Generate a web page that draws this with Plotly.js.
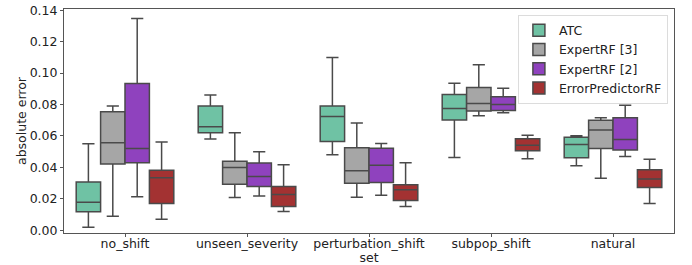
<!DOCTYPE html>
<html>
<head>
<meta charset="utf-8">
<script src="https://cdn.plot.ly/plotly-3.0.1.min.js"></script>
<style>html,body{margin:0;padding:0;background:#fff;}#chart{width:692px;height:265px;}</style>
</head>
<body>
<div id="chart"></div>
<script>
const categories = ["no_shift", "unseen_severity", "perturbation_shift", "subpop_shift", "natural"];
const methods = ["ATC", "ExpertRF [3]", "ExpertRF [2]", "ErrorPredictorRF"];
const colors = ["#6fc2a4", "#a6a6a6", "#8f42be", "#a33232"];

// per method: [no_shift, unseen_severity, perturbation_shift, subpop_shift, natural]
const atcLow    = [0.0019, 0.0580, 0.0480, 0.0463, 0.0410];
const atcQ1     = [0.0117, 0.0620, 0.0565, 0.0701, 0.0461];
const atcMed    = [0.0178, 0.0658, 0.0724, 0.0775, 0.0546];
const atcQ3     = [0.0306, 0.0790, 0.0790, 0.0864, 0.0592];
const atcHigh   = [0.0550, 0.0860, 0.1100, 0.0936, 0.0601];

const e3Low     = [0.0089, 0.0208, 0.0210, 0.0728, 0.0331];
const e3Q1      = [0.0422, 0.0293, 0.0299, 0.0758, 0.0520];
const e3Med     = [0.0556, 0.0399, 0.0378, 0.0807, 0.0637];
const e3Q3      = [0.0754, 0.0439, 0.0524, 0.0909, 0.0699];
const e3High    = [0.0790, 0.0620, 0.0683, 0.1053, 0.0715];

const e2Low     = [0.0212, 0.0217, 0.0223, 0.0747, 0.0469];
const e2Q1      = [0.0429, 0.0278, 0.0304, 0.0762, 0.0510];
const e2Med     = [0.0520, 0.0342, 0.0414, 0.0800, 0.0578];
const e2Q3      = [0.0934, 0.0427, 0.0522, 0.0849, 0.0715];
const e2High    = [0.1348, 0.0499, 0.0552, 0.0903, 0.0796];

const epLow     = [0.0070, 0.0119, 0.0151, 0.0454, 0.0170];
const epQ1      = [0.0170, 0.0151, 0.0189, 0.0505, 0.0272];
const epMed     = [0.0333, 0.0227, 0.0257, 0.0541, 0.0325];
const epQ3      = [0.0382, 0.0278, 0.0289, 0.0582, 0.0384];
const epHigh    = [0.0561, 0.0416, 0.0429, 0.0605, 0.0452];

const stats = [
  [atcLow, atcQ1, atcMed, atcQ3, atcHigh],
  [e3Low, e3Q1, e3Med, e3Q3, e3High],
  [e2Low, e2Q1, e2Med, e2Q3, e2High],
  [epLow, epQ1, epMed, epQ3, epHigh]
];

const traces = methods.map((name, i) => ({
  type: "box",
  name: name,
  x: categories,
  lowerfence: stats[i][0],
  q1: stats[i][1],
  median: stats[i][2],
  q3: stats[i][3],
  upperfence: stats[i][4],
  boxpoints: false,
  fillcolor: colors[i],
  line: {color: "#4a4a4a", width: 1.5},
  whiskerwidth: 0.5,
  hoverinfo: "skip"
}));

const font = {family: "DejaVu Sans, sans-serif", size: 12.5, color: "#222"};

const layout = {
  width: 692, height: 265,
  margin: {l: 64, r: 18, t: 9, b: 32},
  paper_bgcolor: "#fff", plot_bgcolor: "#fff",
  boxmode: "group", boxgap: 0.2, boxgroupgap: 0,
  font: font,
  showlegend: true,
  legend: {
    x: 0.99, y: 0.975, xanchor: "right", yanchor: "top",
    bgcolor: "rgba(255,255,255,0.9)", bordercolor: "#dcdcdc", borderwidth: 1,
    font: {family: "DejaVu Sans, sans-serif", size: 12.5, color: "#222"},
    tracegroupgap: 0
  },
  xaxis: {
    type: "category",
    range: [-0.5, 4.5],
    showline: true, mirror: true, linecolor: "#555", linewidth: 1,
    ticks: "outside", ticklen: 3, tickcolor: "#555",
    ticklabelstandoff: -4,
    showgrid: false, zeroline: false,
    tickfont: font,
    title: {text: "set", font: font, standoff: 0}
  },
  yaxis: {
    range: [-0.0018, 0.1408],
    tickvals: [0, 0.02, 0.04, 0.06, 0.08, 0.10, 0.12, 0.14],
    ticktext: ["0.00", "0.02", "0.04", "0.06", "0.08", "0.10", "0.12", "0.14"],
    showline: true, mirror: true, linecolor: "#555", linewidth: 1,
    ticks: "outside", ticklen: 3, tickcolor: "#555",
    showgrid: false, zeroline: false,
    tickfont: font,
    title: {text: "absolute error", font: font, standoff: 0}
  }
};

Plotly.newPlot("chart", traces, layout, {displayModeBar: false, staticPlot: true});
</script>
</body>
</html>
